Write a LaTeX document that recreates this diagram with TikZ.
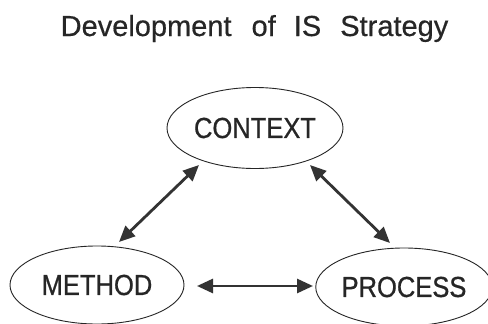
\documentclass[tikz,border=0pt]{standalone}
\usepackage{fontspec}
\setmainfont{Liberation Sans}[FakeBold=0.5]
\newfontfamily\labelfont[FakeStretch=0.88,FakeBold=0.7]{Liberation Sans}
\usetikzlibrary{arrows.meta,shapes.geometric}
\definecolor{ink}{HTML}{262626}
\definecolor{arrowink}{HTML}{333333}
\begin{document}
\begin{tikzpicture}[x=1pt,y=-1pt,
  oval/.style={ellipse,draw=ink,line width=0.9pt,inner sep=0pt,text=ink,
    font=\labelfont\fontsize{29}{29}\selectfont},
  link/.style={draw=arrowink,line width=2.8pt,
    {Triangle[length=16pt,width=14pt]}-{Triangle[length=16pt,width=14pt]}}]
\fill[white] (0,0) rectangle (488,324);
\useasboundingbox (0,0) rectangle (488,324);
\node[anchor=base,text=ink,font=\fontsize{29}{29}\selectfont] (title) at (254.5,36)
  {Development\hspace{12pt} of\hspace{10pt} IS\hspace{11pt} Strategy};
\node[oval,minimum width=176pt,minimum height=81pt] (context) at (255,128) {CONTEXT};
\node[oval,minimum width=174pt,minimum height=78pt] (method) at (97,285) {METHOD};
\node[oval,minimum width=172pt,minimum height=78pt] (process) at (404,287) {PROCESS};
\coordinate (cl) at (199,165);
\coordinate (ml) at (119,242);
\coordinate (cr) at (310,165);
\coordinate (pr) at (390,243);
\coordinate (mh) at (197,286);
\coordinate (ph) at (313,286);
\draw[link] (ml) -- (cl);
\draw[link] (cr) -- (pr);
\draw[link] (mh) -- (ph);
\end{tikzpicture}
\end{document}
